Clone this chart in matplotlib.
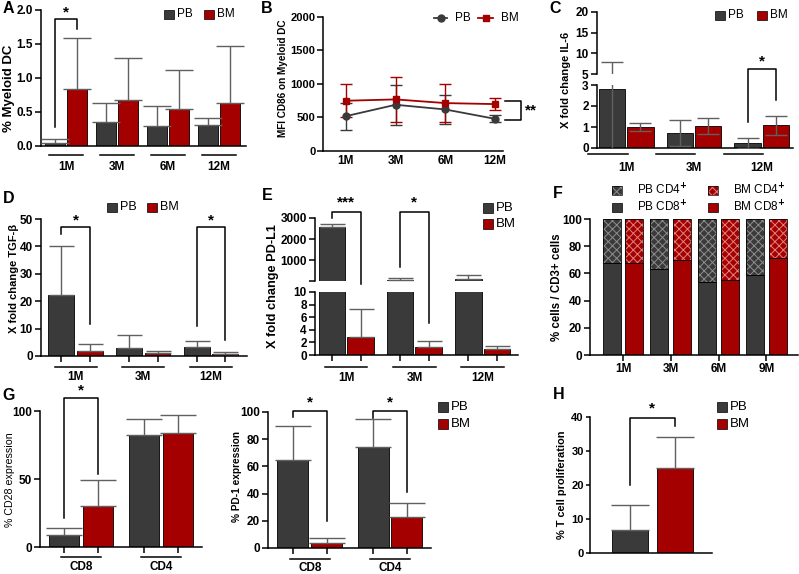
import numpy as np
import matplotlib.pyplot as plt
from matplotlib.patches import Rectangle
from matplotlib.lines import Line2D
from matplotlib.transforms import ScaledTranslation

plt.rcParams['font.family'] = ['Liberation Sans', 'DejaVu Sans']
plt.rcParams['font.weight'] = 'bold'
plt.rcParams['axes.labelweight'] = 'bold'
plt.rcParams['hatch.linewidth'] = 0.7

PB_COLOR = '#3a3a3a'
BM_COLOR = '#a50000'
ERR_COLOR = '#606060'

# ---- data ----
# A: % myeloid DC
a_groups = ['1M', '3M', '6M', '12M']
a_pb = [0.05, 0.36, 0.30, 0.31]
a_pb_err = [0.06, 0.27, 0.29, 0.10]
a_bm = [0.84, 0.68, 0.55, 0.63]
a_bm_err = [0.75, 0.61, 0.57, 0.84]

# B: MFI CD86
b_groups = ['1M', '3M', '6M', '12M']
b_pb = [520, 690, 620, 480]
b_pb_err = [200, 300, 210, 50]
b_bm = [750, 770, 715, 700]
b_bm_err = [250, 335, 285, 90]

# C: IL-6 fold change
c_groups = ['1M', '3M', '12M']
c_pb = [2.8, 0.7, 0.25]
c_pb_err = [5.2, 0.62, 0.25]
c_bm = [1.0, 1.05, 1.08]
c_bm_err = [0.18, 0.4, 0.45]

# D: TGF-b fold change
d_groups = ['1M', '3M', '12M']
d_pb = [22.3, 3.1, 3.4]
d_pb_err = [18.0, 4.7, 2.2]
d_bm = [2.0, 1.2, 0.9]
d_bm_err = [2.4, 0.8, 0.5]

# E: PD-L1 fold change
e_groups = ['1M', '3M', '12M']
e_pb = [2570, 60, 100]
e_pb_err = [130, 80, 190]
e_bm = [2.9, 1.2, 1.0]
e_bm_err = [4.4, 1.0, 0.35]

# F: CD4/CD8 composition
f_groups = ['1M', '3M', '6M', '9M']
f_pb_cd8 = [68, 63, 54, 59]
f_pb_cd4 = [32, 37, 46, 41]
f_bm_cd8 = [67.5, 69.5, 55, 71]
f_bm_cd4 = [32.5, 30.5, 45, 29]

# G: CD28 and PD-1 expression
g_groups = ['CD8', 'CD4']
g28_pb = [9, 82]
g28_pb_err = [5, 12]
g28_bm = [30, 84]
g28_bm_err = [19, 13]
pd1_pb = [65, 74]
pd1_pb_err = [25, 21]
pd1_bm = [4, 23]
pd1_bm_err = [3, 10]

# H: T cell proliferation
h_labels = ['PB', 'BM']
h_vals = [6.7, 25]
h_err = [7.3, 9]

W, H = 799, 574
fig = plt.figure(figsize=(W / 100, H / 100), dpi=100)
TICK_SIZE = 8.5


def add_ax(x0, y0, x1, y1):
    # box given in pixels from top-left of the figure
    ax = fig.add_axes([x0 / W, 1 - y1 / H, (x1 - x0) / W, (y1 - y0) / H])
    ax.spines[['top', 'right']].set_visible(False)
    for s in ax.spines.values():
        s.set_linewidth(1.1)
    ax.tick_params(direction='out', length=4, width=1.1, labelsize=TICK_SIZE, pad=2)
    return ax


def ftext(x, y, s, **kw):
    return fig.text(x / W, 1 - y / H, s, **kw)


def ylab(x, y, s, size, weight='bold'):
    ftext(x, y, s, fontsize=size, fontweight=weight, rotation=90, ha='center', va='center')


def swatch(x, y, color, label, tx=None, w=10, h=9, hatch=None, hcol=None, size=8.5):
    # legend entry drawn in pixel coords, y is the vertical centre
    r = Rectangle((x / W, 1 - (y + h / 2) / H), w / W, h / H, transform=fig.transFigure,
                  facecolor=color, edgecolor=hcol if hatch else 'black',
                  lw=0 if hatch else 0.5, hatch=hatch)
    fig.add_artist(r)
    if hatch:
        fig.add_artist(Rectangle((x / W, 1 - (y + h / 2) / H), w / W, h / H,
                                 transform=fig.transFigure, fill=False,
                                 edgecolor='black', lw=0.5))
    ftext(tx if tx else x + w + 3, y, label, fontsize=size, fontweight='normal', va='center')


def grouped_bars(ax, pb, pb_err, bm, bm_err, off, width, cap, both=False, draw_bm=True):
    x = np.arange(len(pb))
    sets = [(x - off, pb, pb_err, PB_COLOR)]
    if draw_bm:
        sets.append((x + off, bm, bm_err, BM_COLOR))
    for xs, vals, errs, col in sets:
        ax.bar(xs, vals, width, color=col, edgecolor='black', linewidth=0.6, zorder=2)
        lower = errs if both else [0] * len(errs)
        ax.errorbar(xs, vals, yerr=[lower, errs], fmt='none', ecolor=ERR_COLOR,
                    elinewidth=1, capsize=cap, capthick=1, zorder=3)
    return x


def group_axis(ax, centers, labels, half, line_dy, label_dy, shift=0.0, size=TICK_SIZE):
    tr_line = ax.get_xaxis_transform() + ScaledTranslation(0, -line_dy / 100, fig.dpi_scale_trans)
    tr_lab = ax.get_xaxis_transform() + ScaledTranslation(0, -label_dy / 100, fig.dpi_scale_trans)
    for c, lab in zip(centers, labels):
        ax.plot([c + shift - half, c + shift + half], [0, 0], color='black', lw=1.1,
                transform=tr_line, clip_on=False)
        ax.text(c, 0, lab, transform=tr_lab, ha='center', va='center', fontsize=size)


def bracket(ax, x1, x2, y_left, y_right, y_top, star, star_y, size=11):
    ax.plot([x1, x1, x2, x2], [y_left, y_top, y_top, y_right], color='black', lw=1.1,
            clip_on=False, zorder=5)
    ax.text((x1 + x2) / 2, star_y, star, ha='center', va='center', fontsize=size, clip_on=False)


# ---------------- A ----------------
axA = add_ax(41, 10, 246, 146)
xa = grouped_bars(axA, a_pb, a_pb_err, a_bm, a_bm_err, 0.21, 0.39, 10)
axA.set_xlim(-0.49, 3.53)
axA.set_ylim(0, 2)
axA.set_yticks([0, 0.5, 1, 1.5, 2], ['0.0', '0.5', '1.0', '1.5', '2.0'])
axA.set_xticks([])
group_axis(axA, xa, a_groups, 0.33, 9, 21)
ylab(9, 88, '% Myeloid DC', 9.5)
bracket(axA, -0.21, 0.21, 0.28, 1.72, 1.87, '*', 1.97)
swatch(164, 14, PB_COLOR, 'PB')
swatch(204, 14, BM_COLOR, 'BM')

# ---------------- B ----------------
axB = add_ax(323, 17, 503, 151)
xb = np.arange(len(b_groups))
axB.errorbar(xb, b_pb, yerr=b_pb_err, color=PB_COLOR, marker='o', ms=5, lw=1.3,
             elinewidth=1, capsize=4.5, capthick=1)
axB.errorbar(xb, b_bm, yerr=b_bm_err, color=BM_COLOR, marker='s', ms=5, lw=1.3,
             elinewidth=1, capsize=4.5, capthick=1)
axB.set_xlim(-0.46, 3.16)
axB.set_ylim(0, 2000)
axB.set_yticks([0, 500, 1000, 1500, 2000])
axB.set_xticks(xb, b_groups)
axB.tick_params(axis='x', length=0, pad=3)
axB.tick_params(axis='y', labelsize=8, pad=1.5)
ylab(283, 78, 'MFI CD86 on Myeloid DC', 7.2)
axB.plot([3.2, 3.52, 3.52, 3.2], [745, 745, 463, 463], color='black', lw=1.1, clip_on=False)
axB.text(3.6, 600, '**', ha='left', va='center', fontsize=11, clip_on=False)
fig.add_artist(Line2D([434 / W, 447 / W], [1 - 18 / H] * 2, color=PB_COLOR, lw=1.3))
fig.add_artist(Line2D([441 / W], [1 - 18 / H], color=PB_COLOR, marker='o', ms=5))
ftext(455, 18, 'PB', fontsize=8.5, fontweight='normal', va='center')
fig.add_artist(Line2D([478 / W, 493 / W], [1 - 18 / H] * 2, color=BM_COLOR, lw=1.3))
fig.add_artist(Line2D([486 / W], [1 - 18 / H], color=BM_COLOR, marker='s', ms=5))
ftext(501, 18, 'BM', fontsize=8.5, fontweight='normal', va='center')

# ---------------- C (broken axis) ----------------
axC_top = add_ax(597, 12, 793, 74)
axC_bot = add_ax(597, 85, 793, 148)
for ax in (axC_top, axC_bot):
    xc = grouped_bars(ax, c_pb, c_pb_err, c_bm, c_bm_err, 0.21, 0.39, 8, both=True)
    ax.set_xlim(-0.43, 2.46)
    ax.set_xticks([])
axC_top.spines['bottom'].set_visible(False)
axC_top.set_ylim(5, 20)
axC_top.set_yticks([5, 10, 15, 20])
axC_bot.set_ylim(0, 3)
axC_bot.set_yticks([0, 1, 2, 3])
group_axis(axC_bot, xc, c_groups, 0.29, 6, 20, shift=-0.27)
bracket(axC_bot, 1.79, 2.21, 1.25, 2.29, 3.76, '*', 4.1)
ylab(566, 80, 'X fold change IL-6', 8)
swatch(715, 15, PB_COLOR, 'PB')
swatch(757, 15, BM_COLOR, 'BM')

# ---------------- D ----------------
axD = add_ax(41, 219, 247, 356)
xd = grouped_bars(axD, d_pb, d_pb_err, d_bm, d_bm_err, 0.21, 0.38, 9)
axD.set_xlim(-0.51, 2.53)
axD.set_ylim(0, 50)
axD.set_yticks([0, 10, 20, 30, 40, 50])
axD.set_xticks(np.concatenate([xd - 0.21, xd + 0.21]), [])
group_axis(axD, xd, d_groups, 0.31, 11, 21)
ylab(14, 278, 'X fold change TGF-\u03b2', 8)
bracket(axD, -0.21, 0.21, 44.5, 11.7, 47, '*', 49.3)
bracket(axD, 1.79, 2.21, 11, 5.8, 47, '*', 49.3)
swatch(107, 207, PB_COLOR, 'PB', size=9)
swatch(147, 207, BM_COLOR, 'BM', size=9)

# ---------------- E (broken axis) ----------------
axE_top = add_ax(315, 218, 518, 281)
axE_bot = add_ax(315, 292, 518, 355)
grouped_bars(axE_top, e_pb, e_pb_err, e_bm, e_bm_err, 0.21, 0.39, 9, draw_bm=False)
xe = grouped_bars(axE_bot, e_pb, e_pb_err, e_bm, e_bm_err, 0.21, 0.39, 9)
for ax in (axE_top, axE_bot):
    ax.set_xlim(-0.46, 2.52)
axE_top.spines['bottom'].set_visible(False)
axE_top.set_xticks([])
axE_top.set_ylim(10, 3000)
axE_top.set_yticks([10, 1000, 2000, 3000], ['', '1000', '2000', '3000'])
axE_bot.set_ylim(0, 10)
axE_bot.set_yticks([0, 2, 4, 6, 8, 10])
axE_bot.set_xticks(np.concatenate([xe - 0.21, xe + 0.21]), [])
group_axis(axE_bot, xe, e_groups, 0.31, 12, 23)
bracket(axE_bot, -0.21, 0.21, 21.7, 11.3, 22.7, '***', 24.2)
bracket(axE_bot, 0.79, 1.21, 14, 5.1, 22.7, '*', 24.2)
ylab(273, 286, 'X fold change PD-L1', 9.2)
swatch(483, 208, PB_COLOR, 'PB', w=10, h=10, size=9.5)
swatch(483, 224, BM_COLOR, 'BM', w=10, h=10, size=9.5)

# ---------------- F ----------------
axF = add_ax(590, 219, 798, 355)
xf = np.arange(len(f_groups))
axF.bar(xf - 0.24, f_pb_cd8, 0.377, color=PB_COLOR, edgecolor='black', lw=0.6)
axF.bar(xf + 0.24, f_bm_cd8, 0.377, color=BM_COLOR, edgecolor='black', lw=0.6)
axF.bar(xf - 0.24, f_pb_cd4, 0.377, bottom=f_pb_cd8, color=PB_COLOR, edgecolor='#8c8c8c',
        lw=0, hatch='xxxx')
axF.bar(xf + 0.24, f_bm_cd4, 0.377, bottom=f_bm_cd8, color=BM_COLOR, edgecolor='#e08080',
        lw=0, hatch='xxxx')
axF.bar(xf - 0.24, f_pb_cd4, 0.377, bottom=f_pb_cd8, fill=False, edgecolor='black', lw=0.6)
axF.bar(xf + 0.24, f_bm_cd4, 0.377, bottom=f_bm_cd8, fill=False, edgecolor='black', lw=0.6)
axF.set_xlim(-0.69, 3.66)
axF.set_ylim(0, 100)
axF.set_yticks([0, 20, 40, 60, 80, 100])
axF.set_xticks(xf, f_groups)
ylab(557, 287, '% cells / CD3+ cells', 8.3)
swatch(612, 190, PB_COLOR, 'PB CD4$^{+}$', tx=637, hatch='xxxx', hcol='#8c8c8c')
swatch(708, 190, BM_COLOR, 'BM CD4$^{+}$', tx=733, hatch='xxxx', hcol='#e08080')
swatch(612, 207, PB_COLOR, 'PB CD8$^{+}$', tx=637)
swatch(708, 207, BM_COLOR, 'BM CD8$^{+}$', tx=733)

# ---------------- G (CD28) ----------------
axG = add_ax(40, 411, 202, 547)
xg = grouped_bars(axG, g28_pb, g28_pb_err, g28_bm, g28_bm_err, 0.2125, 0.375, 13)
axG.set_xlim(-0.51, 1.51)
axG.set_ylim(0, 100)
axG.set_yticks([0, 50, 100])
axG.set_xticks(np.concatenate([xg - 0.2125, xg + 0.2125]), [])
group_axis(axG, xg, g_groups, 0.25, 10, 20)
ylab(10, 480, '% CD28 expression', 7.7, weight='normal')
bracket(axG, -0.2125, 0.2125, 21, 54, 109.6, '*', 115)

# ---------------- G (PD-1) ----------------
axG2 = add_ax(268, 412, 431, 548)
xg2 = grouped_bars(axG2, pd1_pb, pd1_pb_err, pd1_bm, pd1_bm_err, 0.21, 0.385, 13)
axG2.set_xlim(-0.52, 1.51)
axG2.set_ylim(0, 100)
axG2.set_yticks([0, 20, 40, 60, 80, 100])
axG2.set_xticks(np.concatenate([xg2 - 0.21, xg2 + 0.21]), [])
group_axis(axG2, xg2, g_groups, 0.25, 11, 20)
ylab(237, 476, '% PD-1 expression', 7.3)
bracket(axG2, -0.21, 0.21, 96, 20, 100.7, '*', 107)
bracket(axG2, 0.79, 1.21, 95.6, 41, 100.7, '*', 107)
swatch(438, 407, PB_COLOR, 'PB', w=10, h=10, size=9.5)
swatch(438, 424, BM_COLOR, 'BM', w=10, h=10, size=9.5)

# ---------------- H ----------------
axH = add_ax(590, 417, 712, 553)
xh = np.arange(len(h_vals))
axH.bar(xh, h_vals, 0.81, color=[PB_COLOR, BM_COLOR], edgecolor='black', lw=0.6, zorder=2)
axH.errorbar(xh, h_vals, yerr=[[0, 0], h_err], fmt='none', ecolor=ERR_COLOR,
             elinewidth=1, capsize=14, capthick=1, zorder=3)
axH.set_xlim(-0.9, 1.84)
axH.set_ylim(0, 40)
axH.set_yticks([0, 10, 20, 30, 40])
axH.set_xticks([])
axH.tick_params(axis='y', length=3, labelsize=8, pad=1.5)
ylab(562, 485, '% T cell proliferation', 7.9)
bracket(axH, 0, 1, 20, 37.5, 39.8, '*', 42.6)
swatch(717, 407, PB_COLOR, h_labels[0], w=10, h=10, size=9.5)
swatch(717, 424, BM_COLOR, h_labels[1], w=10, h=10, size=9.5)

# panel letters
for letter, x, y in [('A', 3, 13), ('B', 261, 13), ('C', 549, 13), ('D', 3, 203),
                     ('E', 262, 200), ('F', 553, 198), ('G', 2, 400), ('H', 553, 399)]:
    ftext(x, y, letter, fontsize=11.5, va='baseline')

fig.savefig('out.png', dpi=100)
